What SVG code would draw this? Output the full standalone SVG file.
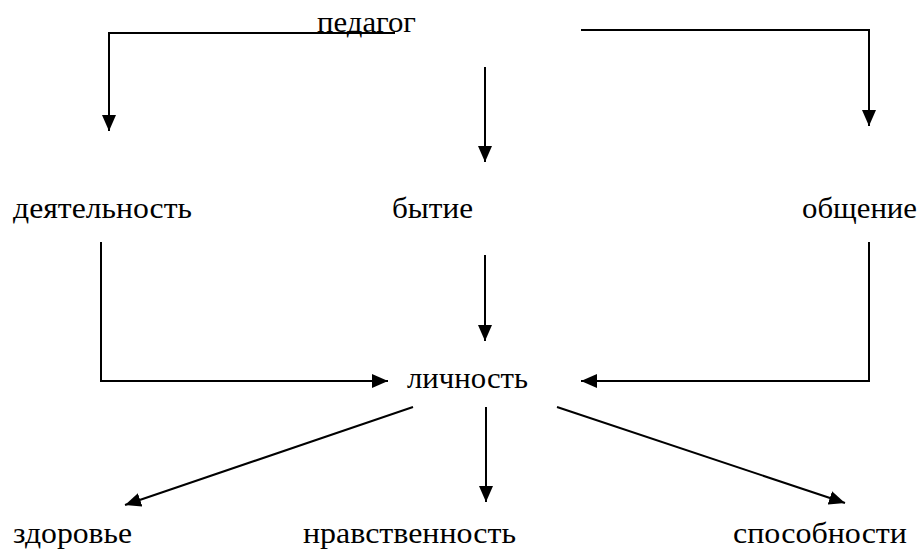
<svg xmlns="http://www.w3.org/2000/svg" width="922" height="551" viewBox="0 0 922 551">
<style>
.c{stroke:#000;stroke-width:2;fill:none}
</style>
<defs>
<marker id="a" markerUnits="userSpaceOnUse" markerWidth="16" markerHeight="14" refX="16" refY="7" orient="auto">
<path d="M0,0 L16,7 L0,14 Z" fill="#000"/>
</marker>
</defs>
<rect width="922" height="551" fill="#fff"/>
<g id="connectors">
<polyline class="c" points="395,33 109,33 109,131" marker-end="url(#a)"/>
<polyline class="c" points="581,30 869,30 869,126" marker-end="url(#a)"/>
<line class="c" x1="485" y1="67" x2="485" y2="162" marker-end="url(#a)"/>
<polyline class="c" points="101,242 101,381 388,381" marker-end="url(#a)"/>
<polyline class="c" points="869,242 869,381 581,381" marker-end="url(#a)"/>
<line class="c" x1="485" y1="255" x2="485" y2="341" marker-end="url(#a)"/>
<line class="c" x1="413" y1="407" x2="125" y2="505" marker-end="url(#a)"/>
<line class="c" x1="486" y1="407" x2="486" y2="502" marker-end="url(#a)"/>
<line class="c" x1="557" y1="407" x2="845" y2="503" marker-end="url(#a)"/>
</g>
<g font-family="Liberation Serif, DejaVu Serif, serif" font-size="29" fill="#000" lengthAdjust="spacingAndGlyphs">
<g id="n-pedagog"><text x="317" y="32" textLength="99" lengthAdjust="spacingAndGlyphs">педагог</text></g>
<g id="n-deyat"><text x="13" y="218" textLength="179" lengthAdjust="spacingAndGlyphs">деятельность</text></g>
<g id="n-bytie"><text x="392" y="218" textLength="81" lengthAdjust="spacingAndGlyphs">бытие</text></g>
<g id="n-obsh"><text x="802" y="218" textLength="115" lengthAdjust="spacingAndGlyphs">общение</text></g>
<g id="n-lichn"><text x="407" y="388" textLength="121" lengthAdjust="spacingAndGlyphs">личность</text></g>
<g id="n-zdor"><text x="13" y="543" textLength="119" lengthAdjust="spacingAndGlyphs">здоровье</text></g>
<g id="n-nravst"><text x="303" y="543" textLength="213" lengthAdjust="spacingAndGlyphs">нравственность</text></g>
<g id="n-sposob"><text x="733" y="543" textLength="174" lengthAdjust="spacingAndGlyphs">способности</text></g>
</g>
</svg>
